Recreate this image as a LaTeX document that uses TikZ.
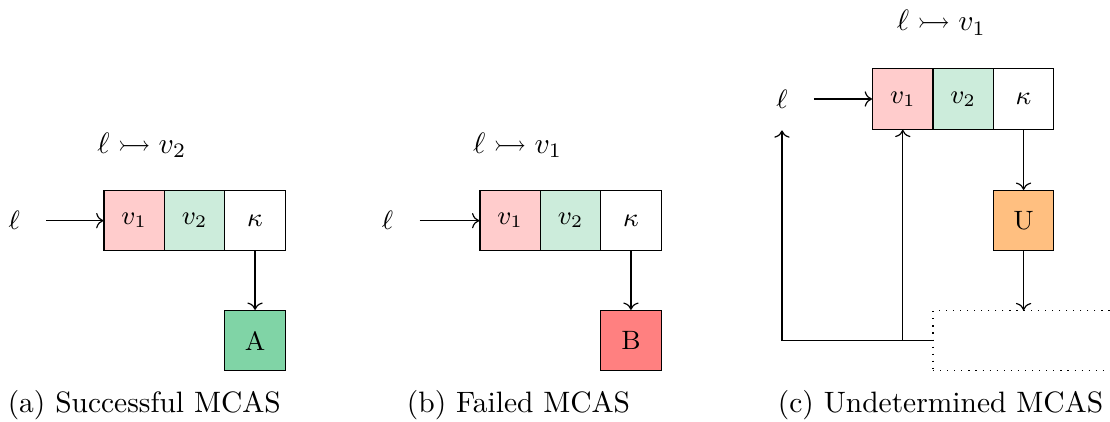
\documentclass[tikz,border=0pt]{standalone}
\usepackage{amsmath}
\usepackage{amssymb}
\usepackage{xcolor}
\definecolor{mcaspink}{RGB}{255,204,204}
\definecolor{mcasmint}{RGB}{204,236,219}
\definecolor{mcasgreen}{RGB}{128,212,166}
\definecolor{mcasred}{RGB}{255,128,128}
\definecolor{mcasorange}{RGB}{255,191,128}
\usepackage{tikz}
\usetikzlibrary{arrows.meta, positioning, calc}

\tikzset{
  cell/.style={draw, minimum width=0.72cm, minimum height=0.72cm, inner sep=0pt, font=\small},
  outcome/.style={cell},
  loc/.style={font=\small},
  heading/.style={font=\normalsize},
  caption/.style={font=\normalsize}
}

\begin{document}
\begin{tikzpicture}
  \useasboundingbox (0,0) rectangle (13.23,5.02);

  % --- Panel 1: successful MCAS ---
  \node[heading] (ta) at (1.69,3.29) {$\ell \rightarrowtail v_2$};
  \node[loc] (la) at (0.17,2.39) {$\ell$};
  \node[cell, fill=mcaspink] (a1) at (1.60,2.39) {$v_1$};
  \node[cell, fill=mcasmint] (a2) at (2.32,2.39) {$v_2$};
  \node[cell] (ak) at (3.04,2.39) {$\kappa$};
  \node[outcome, fill=mcasgreen] (aA) at (3.04,0.96) {A};
  \draw[->, shorten <=0.19cm] (la.east) -- (a1.west);
  \draw[->] (ak) -- (aA);
  \node[caption] (capa) at (1.72,0.19) {(a) Successful MCAS};

  % --- Panel 2: failed MCAS ---
  \node[heading] (tb) at (6.17,3.29) {$\ell \rightarrowtail v_1$};
  \node[loc] (lb) at (4.62,2.39) {$\ell$};
  \node[cell, fill=mcaspink] (b1) at (6.08,2.39) {$v_1$};
  \node[cell, fill=mcasmint] (b2) at (6.80,2.39) {$v_2$};
  \node[cell] (bk) at (7.52,2.39) {$\kappa$};
  \node[outcome, fill=mcasred] (bB) at (7.52,0.96) {B};
  \draw[->, shorten <=0.19cm] (lb.east) -- (b1.west);
  \draw[->] (bk) -- (bB);
  \node[caption] (capb) at (6.18,0.19) {(b) Failed MCAS};

  % --- Panel 3: undetermined MCAS ---
  \node[heading] (tc) at (11.22,4.75) {$\ell \rightarrowtail v_1$};
  \node[loc] (lc) at (9.32,3.84) {$\ell$};
  \node[cell, fill=mcaspink] (c1) at (10.76,3.84) {$v_1$};
  \node[cell, fill=mcasmint] (c2) at (11.48,3.84) {$v_2$};
  \node[cell] (ck) at (12.20,3.84) {$\kappa$};
  \node[outcome, fill=mcasorange] (cU) at (12.20,2.39) {U};
  % Pending continuation (runs off the right edge)
  \node[draw, dotted, minimum width=2.30cm, minimum height=0.71cm, inner sep=0pt] (cpend) at (12.27,0.96) {};
  \coordinate (corner) at (9.32,0.96);
  \draw[->, shorten <=0.19cm] (lc.east) -- (c1.west);
  \draw[->] (ck) -- (cU);
  \draw[->] (cU) -- (cU |- cpend.north);
  \draw[->, shorten >=0.14cm] (cpend.west) -- (corner) -- (lc.south);
  \draw[->] (c1 |- cpend.west) -- (c1.south);
  \node[caption] (capc) at (11.21,0.19) {(c) Undetermined MCAS};
\end{tikzpicture}
\end{document}
